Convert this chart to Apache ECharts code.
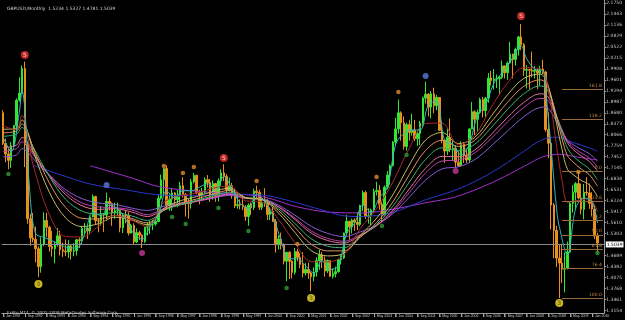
<!DOCTYPE html>
<html><head><meta charset="utf-8">
<script src="https://cdn.jsdelivr.net/npm/echarts@6/dist/echarts.min.js"></script>
<style>html,body{margin:0;padding:0;background:#000;}#c{width:625px;height:320px;}</style>
</head><body><div id="c"></div>
<script>
// ---------- data ----------
const monthNames = ['Jan','Feb','Mar','Apr','May','Jun','Jul','Aug','Sep','Oct','Nov','Dec'];
const firstYear = 1992;
const totalSlots = 221; // Jan 1992 .. May 2010 (last two empty)
const categories = [];
for (let i = 0; i < totalSlots; i++) {
  categories.push((firstYear + Math.floor(i / 12)) + '-' + String(i % 12 + 1).padStart(2, '0'));
}
// monthly GBPUSD [open, high, low, close]
const ohlc = [
// 1992
[1.8680,1.8750,1.7780,1.7820],[1.7820,1.7960,1.7300,1.7530],[1.7530,1.7670,1.7100,1.7350],[1.7350,1.7860,1.7140,1.7760],
[1.7760,1.8340,1.7720,1.8320],[1.8320,1.9080,1.8130,1.9030],[1.9030,1.9670,1.8990,1.9230],[1.9230,2.0000,1.9200,1.9920],
[1.9920,2.0110,1.7160,1.7780],[1.7780,1.7880,1.5580,1.5720],[1.5720,1.5850,1.4960,1.5180],[1.5180,1.5880,1.5060,1.5140],
// 1993
[1.5140,1.5500,1.4500,1.4880],[1.4880,1.4950,1.4090,1.4380],[1.4380,1.5200,1.4210,1.5000],[1.5000,1.5900,1.4950,1.5670],
[1.5670,1.5880,1.5210,1.5480],[1.5480,1.5520,1.4800,1.4940],[1.4940,1.5380,1.4660,1.4880],[1.4880,1.5070,1.4470,1.5000],
[1.5000,1.5460,1.4950,1.5240],[1.5240,1.5380,1.4690,1.4850],[1.4850,1.5050,1.4650,1.4810],[1.4810,1.5140,1.4680,1.4790],
// 1994
[1.4790,1.5120,1.4620,1.4960],[1.4960,1.4990,1.4580,1.4810],[1.4810,1.5030,1.4670,1.4830],[1.4830,1.5160,1.4690,1.5130],
[1.5130,1.5190,1.4900,1.5110],[1.5110,1.5520,1.5000,1.5450],[1.5450,1.5600,1.5280,1.5450],[1.5450,1.5530,1.5150,1.5380],
[1.5380,1.5810,1.5280,1.5770],[1.5770,1.6400,1.5760,1.6340],[1.6340,1.6360,1.5570,1.5660],[1.5660,1.5740,1.5340,1.5650],
// 1995
[1.5650,1.6070,1.5530,1.5840],[1.5840,1.5880,1.5350,1.5820],[1.5820,1.6450,1.5660,1.6200],[1.6200,1.6310,1.5940,1.6140],
[1.6140,1.6170,1.5520,1.5880],[1.5880,1.6170,1.5720,1.5940],[1.5940,1.6170,1.5800,1.5950],[1.5950,1.5960,1.5340,1.5470],
[1.5470,1.5870,1.5320,1.5820],[1.5820,1.5960,1.5590,1.5810],[1.5810,1.5900,1.5250,1.5320],[1.5320,1.5580,1.5300,1.5530],
// 1996
[1.5530,1.5590,1.5010,1.5070],[1.5070,1.5450,1.5040,1.5330],[1.5330,1.5380,1.5120,1.5260],[1.5260,1.5280,1.4900,1.5080],
[1.5080,1.5500,1.5040,1.5480],[1.5480,1.5620,1.5250,1.5520],[1.5520,1.5660,1.5290,1.5560],[1.5560,1.5690,1.5400,1.5570],
[1.5570,1.5700,1.5520,1.5640],[1.5640,1.6380,1.5620,1.6290],[1.6290,1.6950,1.6250,1.6810],[1.6810,1.7130,1.6380,1.7120],
// 1997
[1.7120,1.7210,1.6020,1.6080],[1.6080,1.6400,1.5940,1.6270],[1.6270,1.6580,1.5940,1.6440],[1.6440,1.6460,1.6090,1.6250],
[1.6250,1.6530,1.6040,1.6380],[1.6380,1.6750,1.6140,1.6640],[1.6640,1.6880,1.6310,1.6400],[1.6400,1.6440,1.5780,1.6150],
[1.6150,1.6280,1.5720,1.6140],[1.6140,1.6830,1.6000,1.6750],[1.6750,1.7000,1.6710,1.6930],[1.6930,1.6950,1.6400,1.6450],
// 1998
[1.6450,1.6530,1.6120,1.6380],[1.6380,1.6580,1.6210,1.6460],[1.6460,1.6880,1.6420,1.6810],[1.6810,1.6940,1.6590,1.6730],
[1.6730,1.6830,1.6190,1.6370],[1.6370,1.6790,1.6250,1.6700],[1.6700,1.6720,1.6190,1.6370],[1.6370,1.6850,1.6200,1.6780],
[1.6780,1.7100,1.6640,1.7000],[1.7000,1.7240,1.6770,1.6900],[1.6900,1.6970,1.6380,1.6520],[1.6520,1.6870,1.6480,1.6640],
// 1999
[1.6640,1.6720,1.6280,1.6440],[1.6440,1.6560,1.6020,1.6080],[1.6080,1.6460,1.6000,1.6110],[1.6110,1.6260,1.5980,1.6100],
[1.6100,1.6410,1.5960,1.6050],[1.6050,1.6100,1.5660,1.5780],[1.5780,1.6150,1.5520,1.6100],[1.6100,1.6170,1.5830,1.6030],
[1.6030,1.6560,1.5960,1.6490],[1.6490,1.6640,1.6300,1.6450],[1.6450,1.6530,1.5960,1.6040],[1.6040,1.6270,1.5960,1.6150],
// 2000
[1.6150,1.6570,1.6050,1.6140],[1.6140,1.6260,1.5680,1.5840],[1.5840,1.6040,1.5680,1.5930],[1.5930,1.6050,1.5630,1.5640],
[1.5640,1.5710,1.4770,1.4990],[1.4990,1.5250,1.4860,1.5150],[1.5150,1.5330,1.4860,1.4980],[1.4980,1.5030,1.4440,1.4530],
[1.4530,1.4790,1.3970,1.4780],[1.4780,1.4810,1.4030,1.4530],[1.4530,1.4560,1.4050,1.4220],[1.4220,1.4900,1.4160,1.4800],
// 2001
[1.4800,1.4880,1.4530,1.4640],[1.4640,1.4760,1.4340,1.4440],[1.4440,1.4780,1.4080,1.4200],[1.4200,1.4480,1.4130,1.4300],
[1.4300,1.4490,1.4040,1.4200],[1.4200,1.4240,1.3690,1.4100],[1.4100,1.4360,1.3970,1.4230],[1.4230,1.4640,1.4100,1.4550],
[1.4550,1.4860,1.4290,1.4710],[1.4710,1.4790,1.4340,1.4560],[1.4560,1.4660,1.4100,1.4260],[1.4260,1.4580,1.4200,1.4550],
// 2002
[1.4550,1.4560,1.4090,1.4110],[1.4110,1.4330,1.4050,1.4180],[1.4180,1.4380,1.4080,1.4240],[1.4240,1.4600,1.4210,1.4570],
[1.4570,1.4700,1.4440,1.4620],[1.4620,1.5330,1.4590,1.5320],[1.5320,1.5830,1.5260,1.5650],[1.5650,1.5660,1.5130,1.5490],
[1.5490,1.5720,1.5310,1.5680],[1.5680,1.5730,1.5380,1.5620],[1.5620,1.5890,1.5400,1.5560],[1.5560,1.6110,1.5510,1.6090],
// 2003
[1.6090,1.6510,1.5930,1.6450],[1.6450,1.6500,1.5710,1.5780],[1.5780,1.6010,1.5580,1.5800],[1.5800,1.6000,1.5540,1.5960],
[1.5960,1.6560,1.5900,1.6480],[1.6480,1.6750,1.6370,1.6510],[1.6510,1.6660,1.5970,1.6120],[1.6120,1.6180,1.5660,1.5830],
[1.5830,1.6650,1.5810,1.6600],[1.6600,1.7050,1.6540,1.6940],[1.6940,1.7240,1.6670,1.7200],[1.7200,1.7890,1.7180,1.7860],
// 2004
[1.7860,1.8540,1.7760,1.8230],[1.8230,1.9050,1.8100,1.8680],[1.8680,1.8720,1.7900,1.8400],[1.8400,1.8580,1.7650,1.7740],
[1.7740,1.8400,1.7620,1.8350],[1.8350,1.8470,1.7900,1.8130],[1.8130,1.8650,1.8040,1.8190],[1.8190,1.8480,1.7890,1.7960],
[1.7960,1.8140,1.7750,1.8100],[1.8100,1.8450,1.7780,1.8390],[1.8390,1.9130,1.8300,1.9090],[1.9090,1.9550,1.8940,1.9200],
// 2005
[1.9200,1.9230,1.8580,1.8840],[1.8840,1.9290,1.8530,1.9210],[1.9210,1.9380,1.8670,1.8880],[1.8880,1.9180,1.8750,1.9110],
[1.9110,1.9110,1.8170,1.8190],[1.8190,1.8440,1.7830,1.7920],[1.7920,1.7930,1.7280,1.7610],[1.7610,1.8250,1.7500,1.7990],
[1.7990,1.8520,1.7580,1.7660],[1.7660,1.7890,1.7330,1.7690],[1.7690,1.7770,1.7150,1.7300],[1.7300,1.7600,1.7170,1.7200],
// 2006
[1.7200,1.7880,1.7180,1.7800],[1.7800,1.7860,1.7280,1.7480],[1.7480,1.7640,1.7280,1.7360],[1.7360,1.8240,1.7290,1.8230],
[1.8230,1.8980,1.8220,1.8710],[1.8710,1.8750,1.8060,1.8500],[1.8500,1.8770,1.8150,1.8690],[1.8690,1.9100,1.8650,1.9050],
[1.9050,1.9120,1.8550,1.8740],[1.8740,1.9120,1.8560,1.9090],[1.9090,1.9790,1.8960,1.9650],[1.9650,1.9850,1.9440,1.9580],
// 2007
[1.9580,1.9900,1.9330,1.9620],[1.9620,1.9750,1.9370,1.9630],[1.9630,1.9710,1.9180,1.9670],[1.9670,2.0140,1.9630,1.9990],
[1.9990,2.0000,1.9640,1.9800],[1.9800,2.0110,1.9600,2.0070],[2.0070,2.0660,2.0060,2.0320],[2.0320,2.0330,1.9640,2.0170],
[2.0170,2.0500,2.0000,2.0450],[2.0450,2.0830,2.0280,2.0800],[2.0800,2.1160,2.0430,2.0580],[2.0580,2.0630,1.9710,1.9870],
// 2008
[1.9870,2.0010,1.9360,1.9890],[1.9890,1.9900,1.9330,1.9870],[1.9870,2.0390,1.9670,1.9840],[1.9840,1.9990,1.9640,1.9870],
[1.9870,1.9920,1.9340,1.9790],[1.9790,1.9990,1.9440,1.9900],[1.9900,2.0160,1.9760,1.9820],[1.9820,1.9850,1.8150,1.8210],
[1.8210,1.8690,1.7410,1.7830],[1.7830,1.7870,1.5420,1.6100],[1.6100,1.6160,1.4620,1.5390],[1.5390,1.5520,1.4370,1.4620],
// 2009
[1.4620,1.5010,1.3500,1.4480],[1.4480,1.4990,1.3920,1.4310],[1.4310,1.4780,1.3660,1.4330],[1.4330,1.5080,1.4300,1.4790],
[1.4790,1.6190,1.4760,1.6150],[1.6150,1.6660,1.5890,1.6460],[1.6460,1.6740,1.5990,1.6700],[1.6700,1.7040,1.6260,1.6300],
[1.6300,1.6700,1.5840,1.5980],[1.5980,1.6690,1.5700,1.6460],[1.6460,1.6880,1.6360,1.6440],[1.6440,1.6700,1.5990,1.6150],
// 2010
[1.6150,1.6460,1.5780,1.5990],[1.5990,1.6090,1.5150,1.5234],[1.5234,1.5327,1.4781,1.5039]
];
// moving-average style lines, [monthIndex, price]
const maCyan = [[0,1.80],[3,1.76],[6,1.87],[7,1.93],[8,1.88],[10,1.63],[12,1.53],[15,1.52],[18,1.51],[21,1.50],[24,1.49],[27,1.49],[30,1.53],[33,1.59],[36,1.58],[39,1.61],[42,1.60],[45,1.57],[48,1.53],[51,1.515],[54,1.55],[57,1.58],[60,1.65],[63,1.63],[66,1.65],[69,1.65],[72,1.66],[75,1.67],[78,1.65],[81,1.69],[84,1.655],[87,1.615],[90,1.60],[93,1.64],[96,1.62],[99,1.58],[102,1.51],[105,1.46],[108,1.46],[111,1.44],[114,1.42],[117,1.455],[120,1.43],[123,1.44],[126,1.53],[129,1.56],[132,1.61],[135,1.59],[138,1.63],[141,1.66],[144,1.78],[147,1.81],[150,1.82],[153,1.82],[156,1.89],[159,1.90],[162,1.79],[165,1.78],[168,1.75],[171,1.78],[174,1.86],[177,1.89],[180,1.95],[183,1.98],[186,2.01],[189,2.05],[190,2.055],[192,2.02],[195,1.99],[198,1.985],[199,1.93],[201,1.77],[203,1.60],[204,1.55],[207,1.47],[210,1.60],[213,1.63],[216,1.62],[218,1.56]];
const maRed = [[0,1.831],[5,1.821],[7,1.861],[8,1.848],[9,1.806],[10,1.761],[11,1.723],[17,1.583],[23,1.522],[29,1.521],[35,1.551],[41,1.581],[47,1.568],[53,1.550],[59,1.618],[65,1.636],[71,1.644],[77,1.657],[83,1.664],[89,1.622],[95,1.619],[101,1.570],[107,1.505],[113,1.452],[119,1.451],[125,1.471],[131,1.544],[137,1.600],[143,1.675],[149,1.769],[155,1.838],[161,1.839],[167,1.779],[173,1.805],[179,1.883],[185,1.951],[191,1.994],[197,1.991],[199,1.964],[201,1.886],[203,1.776],[205,1.680],[207,1.617],[209,1.621],[212,1.624],[215,1.628],[218,1.592]];
const maKhaki = [[0,1.822],[5,1.824],[7,1.848],[9,1.816],[11,1.762],[17,1.646],[23,1.574],[29,1.550],[35,1.558],[41,1.576],[47,1.569],[53,1.555],[59,1.601],[65,1.622],[71,1.634],[77,1.648],[83,1.657],[89,1.630],[95,1.625],[101,1.588],[107,1.534],[113,1.483],[119,1.468],[125,1.475],[131,1.525],[137,1.573],[143,1.639],[149,1.722],[155,1.792],[161,1.813],[167,1.782],[173,1.799],[179,1.858],[185,1.918],[191,1.964],[197,1.976],[199,1.962],[201,1.913],[203,1.838],[205,1.766],[207,1.710],[209,1.696],[212,1.679],[215,1.667],[218,1.634]];
const maOrange = [[0,1.812],[5,1.817],[7,1.837],[9,1.814],[11,1.771],[17,1.672],[23,1.603],[29,1.573],[35,1.571],[41,1.581],[47,1.573],[53,1.560],[59,1.596],[65,1.615],[71,1.627],[77,1.641],[83,1.651],[89,1.631],[95,1.626],[101,1.595],[107,1.548],[113,1.501],[119,1.482],[125,1.482],[131,1.520],[137,1.561],[143,1.619],[149,1.695],[155,1.763],[161,1.791],[167,1.774],[173,1.791],[179,1.842],[185,1.897],[191,1.942],[197,1.960],[199,1.952],[201,1.915],[203,1.856],[205,1.796],[207,1.748],[209,1.731],[212,1.711],[215,1.695],[218,1.663]];
const maGreen = [[0,1.802],[5,1.809],[7,1.827],[9,1.809],[11,1.774],[17,1.690],[23,1.626],[29,1.593],[35,1.585],[41,1.589],[47,1.580],[53,1.567],[59,1.595],[65,1.611],[71,1.623],[77,1.636],[83,1.646],[89,1.631],[95,1.627],[101,1.600],[107,1.559],[113,1.516],[119,1.495],[125,1.491],[131,1.521],[137,1.556],[143,1.607],[149,1.674],[155,1.738],[161,1.770],[167,1.762],[173,1.780],[179,1.826],[185,1.877],[191,1.921],[197,1.943],[199,1.938],[201,1.909],[203,1.860],[205,1.811],[207,1.769],[209,1.748],[212,1.728],[215,1.711],[218,1.681]];
const maPink = [[0,1.770],[5,1.778],[7,1.799],[9,1.785],[11,1.758],[17,1.692],[23,1.639],[29,1.608],[35,1.598],[41,1.600],[47,1.591],[53,1.578],[59,1.598],[65,1.611],[71,1.621],[77,1.632],[83,1.641],[89,1.630],[95,1.627],[101,1.605],[107,1.570],[113,1.532],[119,1.511],[125,1.504],[131,1.525],[137,1.553],[143,1.596],[149,1.655],[155,1.713],[161,1.746],[167,1.745],[173,1.764],[179,1.807],[185,1.855],[191,1.897],[197,1.921],[199,1.919],[201,1.897],[203,1.859],[205,1.819],[207,1.784],[209,1.766],[212,1.748],[215,1.732],[218,1.706]];
const maMagenta = [[0,1.760],[5,1.768],[7,1.787],[9,1.776],[11,1.752],[17,1.695],[23,1.646],[29,1.616],[35,1.605],[41,1.603],[47,1.597],[53,1.583],[59,1.600],[65,1.611],[71,1.620],[77,1.630],[83,1.639],[89,1.629],[95,1.626],[101,1.606],[107,1.574],[113,1.538],[119,1.517],[125,1.509],[131,1.527],[137,1.552],[143,1.591],[149,1.645],[155,1.700],[161,1.733],[167,1.736],[173,1.756],[179,1.796],[185,1.842],[191,1.883],[197,1.908],[199,1.907],[201,1.888],[203,1.855],[205,1.820],[207,1.789],[209,1.772],[212,1.756],[215,1.742],[218,1.717]];
const maViolet = [[0,1.745],[5,1.750],[7,1.768],[9,1.759],[11,1.740],[17,1.694],[23,1.653],[29,1.628],[35,1.616],[41,1.612],[47,1.602],[53,1.595],[59,1.607],[65,1.615],[71,1.621],[77,1.629],[83,1.637],[89,1.629],[95,1.627],[101,1.610],[107,1.582],[113,1.551],[119,1.531],[125,1.522],[131,1.535],[137,1.554],[143,1.586],[149,1.632],[155,1.680],[161,1.711],[167,1.717],[173,1.737],[179,1.775],[185,1.817],[191,1.857],[197,1.883],[199,1.884],[201,1.870],[203,1.844],[205,1.816],[207,1.791],[209,1.779],[212,1.766],[215,1.754],[218,1.733]];
const maBlue = [[11,1.722],[17,1.705],[23,1.690],[29,1.675],[35,1.664],[41,1.657],[47,1.650],[53,1.642],[59,1.638],[71,1.636],[83,1.640],[95,1.638],[107,1.618],[113,1.605],[119,1.592],[125,1.580],[131,1.578],[143,1.590],[155,1.625],[167,1.655],[179,1.700],[191,1.760],[197,1.790],[203,1.800],[209,1.785],[215,1.770],[218,1.760]];
const maPurple = [[32,1.720],[40,1.702],[48,1.684],[57,1.662],[72,1.648],[84,1.642],[96,1.632],[108,1.605],[120,1.590],[132,1.588],[144,1.600],[156,1.618],[166,1.633],[180,1.675],[192,1.722],[198,1.745],[204,1.752],[210,1.745],[218,1.736]];
// wave markers [monthIndex, price]
const redMarks = [[8,2.0295],[81,1.7416],[190,2.1385]];
const yellowMarks = [[13,1.3894],[113,1.3503],[204,1.3363]];
const blueMarks = [[38,1.6661],[155,1.9708]];
const pinkMarks = [[51,1.4761],[166,1.7053]];
const orangeMarks = [[59,1.7192],[66,1.6997],[70,1.7164],[93,1.6773],[108,1.5012],[137,1.6885],[145,1.9261],[211,1.7025]];
const greenMarks = [[2,1.6969],[62,1.5767],[67,1.5571],[79,1.6018],[90,1.5376],[104,1.3783],[139,1.5515],[148,1.7500],[218,1.4761]];
// fibonacci levels
const fibLabels = ['161.8','138.2','0.0','23.6','38.2','50.0','61.8','76.4','100.0'];
const fibValues = [1.9345,1.8506,1.7040,1.6205,1.5688,1.5270,1.4852,1.4335,1.3500];
const fibStart = 205, fibEnd = 220;
const lastPrice = 1.5039;
const yTicks = [2.1750,2.1443,2.1136,2.0829,2.0522,2.0215,1.9908,1.9601,1.9294,1.8987,1.8680,1.8373,1.8066,1.7759,1.7452,1.7145,1.6838,1.6531,1.6224,1.5917,1.5610,1.5303,1.4689,1.4382,1.4075,1.3768,1.3461,1.3154];
const titleText = 'GBPUSD,Monthly  1.5234 1.5327 1.4781 1.5039';
const copyText = 'FxPro MT4, \u00a9 2001-2009 MetaQuotes Software Corp.';

// ---------- chart ----------
const candleData = categories.map((c, i) => {
  const r = ohlc[i];
  return r ? [r[0], r[3], r[2], r[1]] : '-';
});
function lineSeries(data, color) {
  return { type: 'line', data: data, smooth: 0.35, showSymbol: false, symbol: 'none',
    lineStyle: { color: color, width: 1 }, silent: true, z: 3 };
}
function markSeries(data, color, size, digit, digitColor) {
  return { type: 'scatter', data: data, symbol: 'circle', symbolSize: size, z: 6, silent: true,
    itemStyle: { color: color },
    label: { show: !!digit, formatter: digit || '', position: 'inside', color: digitColor || '#000',
      fontSize: 6, fontWeight: 'bold', fontFamily: 'DejaVu Sans' } };
}
const fibLines = fibValues.map((v, i) => [
  { coord: [categories[fibStart], v],
    label: { show: true, formatter: fibLabels[i], position: 'insideEndTop', distance: 1,
      color: '#c08848', fontSize: 4.5, fontFamily: 'DejaVu Sans' } },
  { coord: [categories[fibEnd], v] }
]);

const chart = echarts.init(document.getElementById('c'), null, { renderer: 'canvas' });
chart.setOption({
  animation: false,
  backgroundColor: '#000',
  title: [
    { text: titleText, left: 2, top: 1, textStyle: { color: '#d0d0d0', fontSize: 4.5, fontWeight: 'normal', fontFamily: 'DejaVu Sans' } },
    { text: copyText, left: 2, top: 306, textStyle: { color: '#c0c0c0', fontSize: 4.2, fontWeight: 'normal', fontFamily: 'DejaVu Sans' } }
  ],
  grid: { left: 0.6, right: 14.7, top: 0, bottom: 7, containLabel: false },
  xAxis: {
    type: 'category', data: categories, boundaryGap: true,
    axisLine: { show: true, lineStyle: { color: '#9a9a9a', width: 1 } },
    axisTick: { show: true, interval: 7, alignWithLabel: true, length: 4, lineStyle: { color: '#9a9a9a' } },
    axisLabel: { interval: 7, align: 'left', margin: 1, color: '#c8c8c8', fontSize: 3.5, fontFamily: 'Liberation Sans',
      formatter: v => { const p = v.split('-'); return '1 ' + monthNames[+p[1] - 1] + ' ' + p[0]; } },
    splitLine: { show: false }
  },
  yAxis: {
    type: 'value', position: 'right', min: 1.3084, max: 2.1832, scale: true,
    axisLine: { show: true, lineStyle: { color: '#9a9a9a', width: 1 } },
    axisTick: { show: true, length: 2, customValues: yTicks, lineStyle: { color: '#9a9a9a' } },
    axisLabel: { customValues: yTicks, margin: 2, color: '#c8c8c8', fontSize: 4.5, fontFamily: 'DejaVu Sans',
      formatter: v => v.toFixed(4) },
    splitLine: { show: false }
  },
  series: [
    { type: 'candlestick', data: candleData, barWidth: 2, z: 2, silent: true,
      itemStyle: { color: '#33e633', color0: '#e8901e', borderColor: '#33e633', borderColor0: '#e8901e', borderWidth: 1 },
      markLine: { silent: true, symbol: ['none', 'none'], animation: false,
        data: [
          { yAxis: lastPrice, lineStyle: { color: '#8a8a8a', width: 1, type: 'solid' },
            label: { show: true, position: 'end', distance: 1.5, formatter: lastPrice.toFixed(4), color: '#000',
              backgroundColor: '#ffffff', padding: [1, 1, 0, 1], fontSize: 4.5, fontFamily: 'DejaVu Sans' } }
        ].concat(fibLines),
        lineStyle: { color: '#9a6a35', width: 1, type: 'solid' } } },
    lineSeries(maPurple, '#a030c8'),
    lineSeries(maBlue, '#2838c8'),
    lineSeries(maViolet, '#8a5ad6'),
    lineSeries(maMagenta, '#c040b0'),
    lineSeries(maPink, '#e0709a'),
    lineSeries(maGreen, '#3cb371'),
    lineSeries(maOrange, '#e0945a'),
    lineSeries(maKhaki, '#c8b860'),
    lineSeries(maRed, '#a8282a'),
    lineSeries(maCyan, '#30b8c0'),
    markSeries(orangeMarks, '#e08a2a', 4.5),
    markSeries(greenMarks, '#2e9e2e', 4.5),
    markSeries(blueMarks, '#5a78e0', 6),
    markSeries(pinkMarks, '#c8369a', 6),
    markSeries(redMarks, '#e8302c', 8, '5', '#ffb8b8'),
    markSeries(yellowMarks, '#f4e62a', 8, '3', '#806010')
  ]
});
</script></body></html>
